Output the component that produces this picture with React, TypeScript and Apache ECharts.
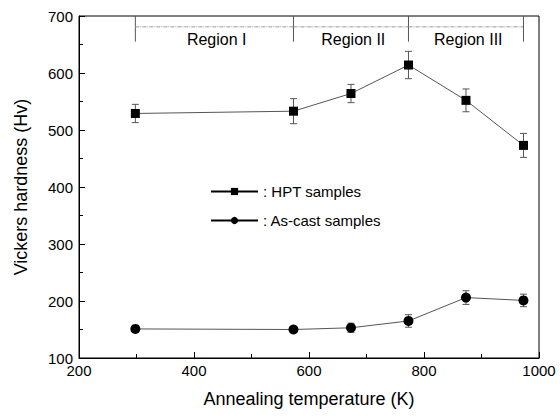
import React, { useEffect, useRef } from "react";
import * as echarts from "echarts";

const temps = [298, 573, 673, 773, 873, 973];
const hptValues = [529, 533, 564, 614, 552, 473];
const hptErrors = [16, 22, 16, 24, 20, 21];
const castValues = [151, 150, 153, 165, 206, 201];
const castErrors = [3, 3, 8, 11, 12, 11];
const regionBounds = [298, 573, 773, 973];
const regionLabels = ["Region I", "Region II", "Region III"];
const regionLineTop = 700;
const regionLineBottom = 655;
const regionDashLevel = 681;
const regionTextLevel = 658;
const xTicks = [200, 400, 600, 800, 1000];
const yTicks = [100, 200, 300, 400, 500, 600, 700];

const FONT = "Liberation Sans, Arial, sans-serif";

export default function App() {
  const ref = useRef<HTMLDivElement>(null);
  useEffect(() => {
    if (!ref.current) return;
    const chart = echarts.init(ref.current, null, { renderer: "svg" });
    const errData = (vals: number[], errs: number[]) =>
      temps.map((t, i) => [t, vals[i], errs[i]]);
    const errorRender = (params: any, api: any) => {
      const x = api.value(0);
      const y = api.value(1);
      const e = api.value(2);
      const top = api.coord([x, y + e]);
      const bot = api.coord([x, y - e]);
      const style = { stroke: "#555", lineWidth: 1 };
      const hw = 3.5;
      return {
        type: "group",
        children: [
          { type: "line", shape: { x1: top[0], y1: top[1], x2: bot[0], y2: bot[1] }, style },
          { type: "line", shape: { x1: top[0] - hw, y1: top[1], x2: top[0] + hw, y2: top[1] }, style },
          { type: "line", shape: { x1: bot[0] - hw, y1: bot[1], x2: bot[0] + hw, y2: bot[1] }, style },
        ],
      };
    };
    const regionRender = (params: any, api: any) => {
      const i = params.dataIndex;
      const x = api.value(0);
      const p1 = api.coord([x, regionLineTop]);
      const p2 = api.coord([x, regionLineBottom]);
      const children: any[] = [
        {
          type: "line",
          shape: { x1: p1[0], y1: p1[1], x2: p2[0], y2: p2[1] },
          style: { stroke: "#555", lineWidth: 1 },
        },
      ];
      if (i < regionBounds.length - 1) {
        const nx = regionBounds[i + 1];
        const d1 = api.coord([x, regionDashLevel]);
        const d2 = api.coord([nx, regionDashLevel]);
        children.push({
          type: "line",
          shape: { x1: d1[0], y1: d1[1], x2: d2[0], y2: d2[1] },
          style: { stroke: "#999", lineWidth: 1, lineDash: [4, 1, 1, 1] },
        });
        const tc = api.coord([(x + nx) / 2 + 4, regionTextLevel]);
        children.push({
          type: "text",
          x: tc[0],
          y: tc[1],
          style: {
            text: regionLabels[i],
            fill: "#000",
            font: `16px ${FONT}`,
            align: "center",
            verticalAlign: "middle",
          },
        });
      }
      return { type: "group", children };
    };
    chart.setOption({
      animation: false,
      backgroundColor: "#fff",
      grid: {
        left: 79,
        right: 21,
        top: 16,
        bottom: 60,
        show: true,
        borderColor: "#000",
        borderWidth: 1,
        backgroundColor: "transparent",
      },
      legend: {
        orient: "vertical",
        left: 210,
        top: 184,
        padding: 0,
        itemWidth: 47,
        itemHeight: 9,
        itemGap: 14,
        data: ["HPT samples", "As-cast samples"],
        formatter: (n: string) => ": " + n,
        textStyle: { fontFamily: FONT, fontSize: 15, color: "#000" },
        lineStyle: { color: "#000", width: 2 },
      },
      xAxis: {
        type: "value",
        min: 200,
        max: 1000,
        interval: 200,
        name: "Annealing temperature (K)",
        nameLocation: "middle",
        nameGap: 32,
        nameTextStyle: { fontFamily: FONT, fontSize: 18, color: "#000" },
        axisLine: { show: true, lineStyle: { color: "#000", width: 1 } },
        axisTick: { show: true, inside: true, length: 6, lineStyle: { color: "#000" } },
        minorTick: { show: true, splitNumber: 2, length: 4, lineStyle: { color: "#000" } },
        axisLabel: {
          fontFamily: FONT,
          fontSize: 15,
          color: "#000",
          margin: 5,
          formatter: (v: number) => (xTicks.includes(v) ? String(v) : ""),
        },
        splitLine: { show: false },
      },
      yAxis: {
        type: "value",
        min: 100,
        max: 700,
        interval: 100,
        name: "Vickers hardness (Hv)",
        nameLocation: "middle",
        nameGap: 49,
        nameTextStyle: { fontFamily: FONT, fontSize: 18, color: "#000" },
        axisLine: { show: true, lineStyle: { color: "#000", width: 1 } },
        axisTick: { show: true, inside: true, length: 6, lineStyle: { color: "#000" } },
        minorTick: { show: true, splitNumber: 2, length: 4, lineStyle: { color: "#000" } },
        axisLabel: {
          fontFamily: FONT,
          fontSize: 15,
          color: "#000",
          margin: 6,
          formatter: (v: number) => (yTicks.includes(v) ? String(v) : ""),
        },
        splitLine: { show: false },
      },
      series: [
        {
          type: "custom",
          name: "regions",
          renderItem: regionRender,
          data: regionBounds.map((b) => [b]),
          encode: { x: 0 },
          silent: true,
          z: 1,
          clip: false,
        },
        {
          type: "custom",
          name: "hptErr",
          renderItem: errorRender,
          data: errData(hptValues, hptErrors),
          encode: { x: 0, y: 1 },
          z: 2,
        },
        {
          type: "custom",
          name: "castErr",
          renderItem: errorRender,
          data: errData(castValues, castErrors),
          encode: { x: 0, y: 1 },
          z: 2,
        },
        {
          type: "line",
          name: "HPT samples",
          data: temps.map((t, i) => [t, hptValues[i]]),
          symbol: "rect",
          symbolSize: 9,
          itemStyle: { color: "#000" },
          lineStyle: { color: "#555", width: 1 },
          z: 3,
        },
        {
          type: "line",
          name: "As-cast samples",
          data: temps.map((t, i) => [t, castValues[i]]),
          symbol: "circle",
          symbolSize: 10,
          itemStyle: { color: "#000" },
          lineStyle: { color: "#555", width: 1 },
          z: 3,
        },
      ],
    });
    return () => chart.dispose();
  }, []);
  return (
    <div
      ref={ref}
      style={{ position: "absolute", left: 0, top: 0, width: 560, height: 418 }}
    />
  );
}
